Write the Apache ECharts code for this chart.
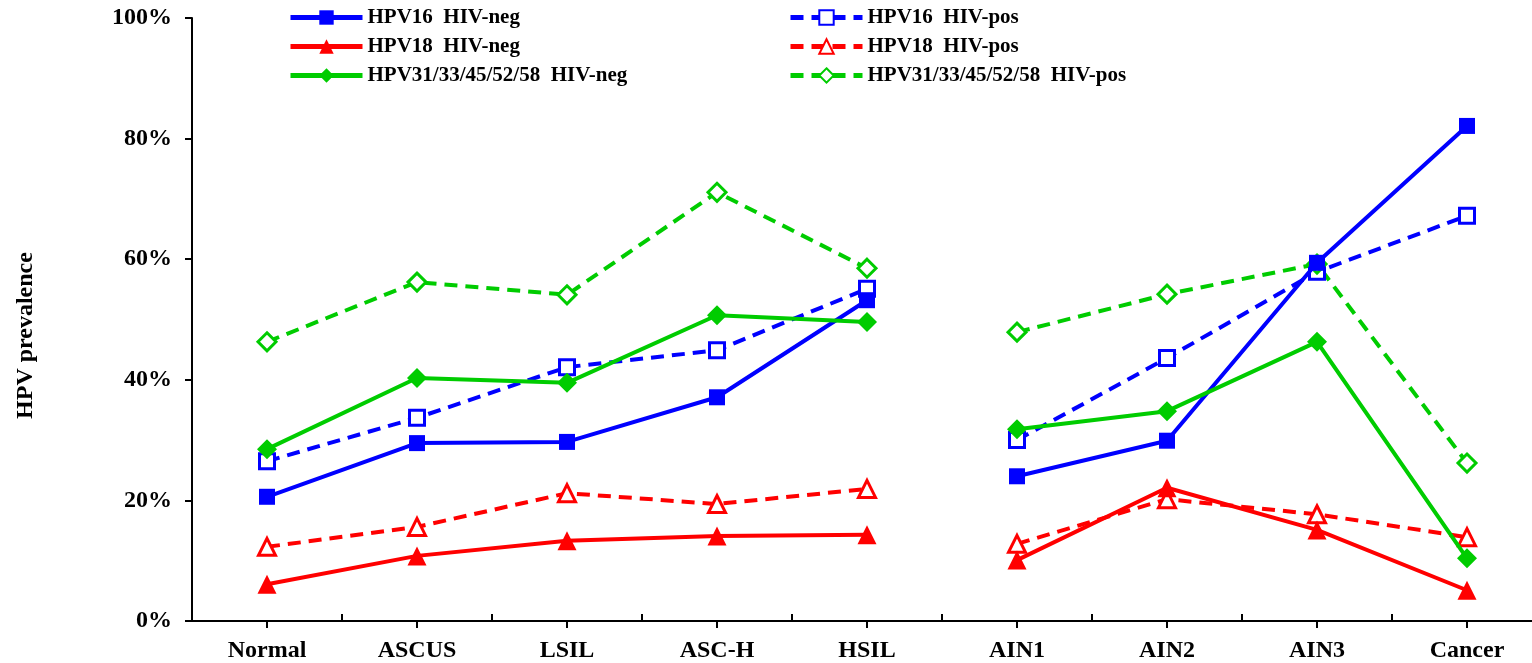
<!DOCTYPE html>
<html>
<head>
<meta charset="utf-8">
<script src="https://cdn.jsdelivr.net/npm/echarts@6/dist/echarts.min.js"></script>
<style>
  html, body { margin: 0; padding: 0; background: #fff; overflow: hidden; }
  /* plot area runs slightly past the right edge of the window */
  #chart { width: 1560px; height: 663px; }
</style>
</head>
<body>
<div id="chart"></div>
<script>
// Lesion grades: cervical cytology (first five) and anal intraepithelial neoplasia (last four)
const categories = ['Normal', 'ASCUS', 'LSIL', 'ASC-H', 'HSIL', 'AIN1', 'AIN2', 'AIN3', 'Cancer'];
const cervicalCount = 5;

// HPV prevalence (%) by grade
const hpv16Neg = [20.6, 29.5, 29.7, 37.1, 53.2, 24.0, 29.9, 59.4, 82.1];
const hpv16Pos = [26.5, 33.7, 42.1, 44.9, 55.1, 30.0, 43.6, 57.9, 67.2];
const hpv18Neg = [6.1, 10.8, 13.3, 14.1, 14.3, 10.1, 22.1, 15.1, 5.1];
const hpv18Pos = [12.3, 15.6, 21.2, 19.4, 21.9, 12.8, 20.2, 17.7, 13.9];
const hrNeg = [28.5, 40.3, 39.5, 50.7, 49.6, 31.8, 34.8, 46.3, 10.4];
const hrPos = [46.3, 56.2, 54.1, 71.1, 58.5, 47.9, 54.2, 59.2, 26.2];

const yTicks = [0, 20, 40, 60, 80, 100];

const BLUE = '#0000ff', RED = '#ff0000', GREEN = '#00cc00';
const FONT = '"Liberation Serif", "Times New Roman", serif';
const DASH = [13, 8];

const seriesDefs = [
  { name: 'HPV16  HIV-neg', data: hpv16Neg, color: BLUE, symbol: 'rect', size: 16, open: false },
  { name: 'HPV18  HIV-neg', data: hpv18Neg, color: RED, symbol: 'triangle', size: 19, open: false },
  { name: 'HPV31/33/45/52/58  HIV-neg', data: hrNeg, color: GREEN, symbol: 'diamond', size: 20, open: false },
  { name: 'HPV16  HIV-pos', data: hpv16Pos, color: BLUE, symbol: 'rect', size: 15, open: true },
  { name: 'HPV18  HIV-pos', data: hpv18Pos, color: RED, symbol: 'triangle', size: 17, open: true },
  { name: 'HPV31/33/45/52/58  HIV-pos', data: hrPos, color: GREEN, symbol: 'diamond', size: 18, open: true }
];

// Each group is drawn as two separate segments so the line breaks between HSIL and AIN1
const segments = [
  i => i < cervicalCount,
  i => i >= cervicalCount
];

const series = [];
seriesDefs.forEach(def => {
  segments.forEach(inSeg => {
    series.push({
      name: def.name,
      type: 'line',
      xAxisIndex: 0,
      data: def.data.map((v, i) => inSeg(i) ? v : '-'),
      symbol: def.symbol,
      symbolSize: def.size,
      showAllSymbol: true,
      connectNulls: false,
      lineStyle: { color: def.color, width: 4, type: def.open ? DASH : 'solid' },
      itemStyle: def.open
        ? { color: '#ffffff', borderColor: def.color, borderWidth: 3 }
        : { color: def.color, borderColor: def.color, borderWidth: 0 },
      emphasis: { disabled: true },
      animation: false,
      z: def.open ? 3 : 4
    });
  });
});

const legendBase = {
  orient: 'vertical', top: 7, padding: 0,
  itemWidth: 72, itemHeight: 18, itemGap: 8,
  lineStyle: { width: 5 },
  textStyle: { fontFamily: FONT, fontWeight: 'bold', fontSize: 21, color: '#000', padding: [0, 0, 0, 0] },
  selectedMode: false
};

const option = {
  backgroundColor: '#fff',
  animation: false,
  grid: { left: 192, top: 18, width: 1350, height: 603, containLabel: false },
  legend: [
    Object.assign({}, legendBase, { data: seriesDefs.slice(0, 3).map(d => d.name), left: 288 }),
    Object.assign({}, legendBase, { data: seriesDefs.slice(3).map(d => d.name), left: 788 })
  ],
  xAxis: [
    {
      type: 'category',
      data: categories,
      boundaryGap: true,
      axisLine: { lineStyle: { color: '#000', width: 2 } },
      axisTick: { show: true, alignWithLabel: true, length: 7, lineStyle: { color: '#000', width: 2 } },
      axisLabel: { fontFamily: FONT, fontWeight: 'bold', fontSize: 24, color: '#000', margin: 18 },
      splitLine: { show: false }
    },
    {
      type: 'category',
      data: categories,
      boundaryGap: true,
      position: 'bottom',
      axisLine: { show: false },
      axisTick: { show: true, inside: true, length: 7, lineStyle: { color: '#000', width: 2 } },
      axisLabel: { show: false },
      splitLine: { show: false }
    }
  ],
  yAxis: {
    type: 'value',
    min: yTicks[0],
    max: yTicks[yTicks.length - 1],
    interval: 20,
    name: 'HPV prevalence',
    nameLocation: 'middle',
    nameRotate: 90,
    nameGap: 154,
    nameTextStyle: { fontFamily: FONT, fontWeight: 'bold', fontSize: 24, color: '#000', padding: [0, 32, 0, 0] },
    axisLine: { show: true, lineStyle: { color: '#000', width: 2 } },
    axisTick: { show: true, length: 7, lineStyle: { color: '#000', width: 2 } },
    axisLabel: { fontFamily: FONT, fontWeight: 'bold', fontSize: 24, color: '#000', margin: 20, formatter: '{value}%' },
    splitLine: { show: false }
  },
  series: series
};

const chart = echarts.init(document.getElementById('chart'), null, { renderer: 'canvas' });
chart.setOption(option);
</script>
</body>
</html>
